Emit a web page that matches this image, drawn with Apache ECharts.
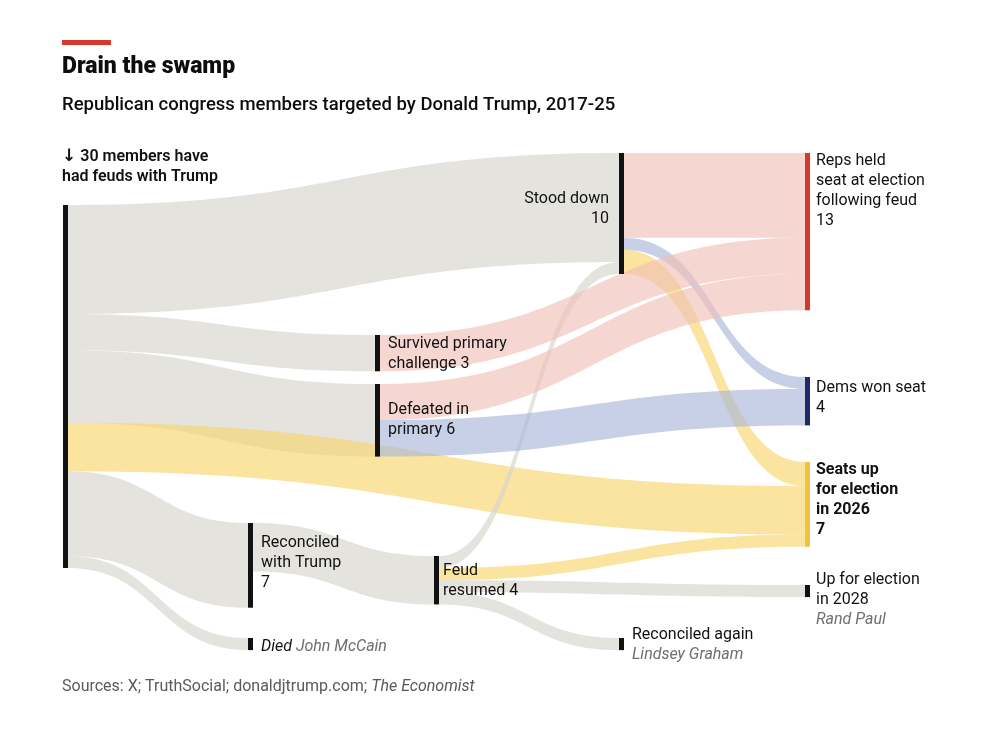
<!DOCTYPE html>
<html>
<head>
<meta charset="utf-8">
<script src="https://cdn.jsdelivr.net/npm/echarts@6/dist/echarts.min.js"></script>
<style>html,body{margin:0;padding:0;background:#fff}#c{width:1000px;height:734px}</style>
</head>
<body>
<div id="c"></div>
<script>
// ---------------- DATA ----------------
const nodeNames = [
  'All members', 'Reconciled with Trump', 'Died', 'Survived primary challenge',
  'Defeated in primary', 'Feud resumed', 'Stood down', 'Reconciled again',
  'Reps held seat', 'Dems won seat', 'Seats up for election in 2026', 'Up for election in 2028'
];
const linkSource = [
  'All members', 'All members', 'All members', 'All members', 'All members', 'All members',
  'Reconciled with Trump',
  'Feud resumed', 'Feud resumed', 'Feud resumed', 'Feud resumed',
  'Stood down', 'Stood down', 'Stood down',
  'Survived primary challenge',
  'Defeated in primary', 'Defeated in primary'
];
const linkTarget = [
  'Stood down', 'Survived primary challenge', 'Defeated in primary', 'Seats up for election in 2026', 'Reconciled with Trump', 'Died',
  'Feud resumed',
  'Stood down', 'Seats up for election in 2026', 'Up for election in 2028', 'Reconciled again',
  'Reps held seat', 'Dems won seat', 'Seats up for election in 2026',
  'Reps held seat',
  'Reps held seat', 'Dems won seat'
];
const linkValue = [9, 3, 6, 4, 7, 1, 4, 1, 1, 1, 1, 7, 1, 2, 3, 3, 3];
const linkKind = ['grey', 'grey', 'grey', 'yellow', 'grey', 'grey', 'grey', 'grey', 'yellow', 'grey', 'grey', 'pink', 'blue', 'yellow', 'pink', 'pink', 'blue'];
const nodeLabelText = {
  'All members': '{a|↓}30 members have\nhad feuds with Trump',
  'Reconciled with Trump': 'Reconciled\nwith Trump\n7',
  'Died': '{i|Died} {g|John McCain}',
  'Survived primary challenge': 'Survived primary\nchallenge 3',
  'Defeated in primary': 'Defeated in\nprimary 6',
  'Feud resumed': 'Feud\nresumed 4',
  'Stood down': 'Stood down\n10',
  'Reconciled again': 'Reconciled again\n{g|Lindsey Graham}',
  'Reps held seat': 'Reps held\nseat at election\nfollowing feud\n13',
  'Dems won seat': 'Dems won seat\n4',
  'Seats up for election in 2026': 'Seats up\nfor election\nin 2026\n7',
  'Up for election in 2028': 'Up for election\nin 2028\n{g|Rand Paul}'
};

// ---------------- LAYOUT / STYLE ----------------
const TOP = 153, H = 500, KY = 12.1, FONT = 'Roboto';
// columns: [name, depth, left x (px), top y (px)], in vertical order
const columns = [
  [['All members', 0, 63, 205]],
  [['Reconciled with Trump', 1, 248, 523], ['Died', 1, 248, 638]],
  [['Survived primary challenge', 2, 375, 335], ['Defeated in primary', 2, 375, 384], ['Feud resumed', 2, 434, 556]],
  [['Stood down', 3, 619, 153], ['Reconciled again', 3, 619, 638]],
  [['Reps held seat', 4, 805, 153], ['Dems won seat', 4, 805, 377], ['Seats up for election in 2026', 4, 805, 462], ['Up for election in 2028', 4, 805, 585]]
];
const nodeColor = {
  'Reps held seat': '#d5392c',
  'Dems won seat': '#1f2a6b',
  'Seats up for election in 2026': '#f2c13d'
};
const linkColor = { grey: '#d5d4cc', pink: '#f1c0b7', blue: '#a9b7d9', yellow: '#f7d66d' };
const labelPos = {
  'All members': { position: [-1, -58], fontWeight: 600 },
  'Reconciled with Trump': { position: [13, 9.5] },
  'Died': { position: [13, -1] },
  'Survived primary challenge': { position: [13, -1.5] },
  'Defeated in primary': { position: [13, 16] },
  'Feud resumed': { position: [9, 5] },
  'Stood down': { position: [-10, 36], align: 'right' },
  'Reconciled again': { position: [13, -13] },
  'Reps held seat': { position: [11, -2] },
  'Dems won seat': { position: [11, 1] },
  'Seats up for election in 2026': { position: [11, -2], fontWeight: 'bold' },
  'Up for election in 2028': { position: [11, -15] }
};

// node values from links
const nodeValue = {};
nodeNames.forEach(function (n) {
  let vin = 0, vout = 0;
  linkSource.forEach(function (s, k) {
    if (s === n) vout += linkValue[k];
    if (linkTarget[k] === n) vin += linkValue[k];
  });
  nodeValue[n] = Math.max(vin, vout);
});

const seriesNodes = [];
let spCount = 0;
function spacer(depth, v) {
  seriesNodes.push({
    name: '__spacer' + (spCount++), depth: depth, value: v,
    itemStyle: { color: 'rgba(0,0,0,0)', borderWidth: 0 },
    label: { show: false }
  });
}
columns.forEach(function (col) {
  let bottom = TOP;
  let depth = col[0][1];
  col.forEach(function (c) {
    const name = c[0], x = c[2], y = c[3];
    const gap = (y - bottom) / KY;
    if (gap > 0.0001) spacer(depth, gap);
    const lp = labelPos[name];
    seriesNodes.push({
      name: name, depth: depth, localX: x / 1000,
      itemStyle: { color: nodeColor[name] || '#111111' },
      label: {
        formatter: nodeLabelText[name],
        position: lp.position,
        align: lp.align || 'left',
        verticalAlign: 'top',
        fontWeight: lp.fontWeight || 'normal'
      }
    });
    bottom = y + nodeValue[name] * KY;
  });
  const rest = (TOP + H - bottom) / KY;
  if (rest > 0.0001) spacer(depth, rest - 0.0001);
});

const seriesLinks = linkSource.map(function (s, k) {
  return {
    source: s, target: linkTarget[k], value: linkValue[k],
    lineStyle: { color: linkColor[linkKind[k]], opacity: 0.65 }
  };
});

const chart = echarts.init(document.getElementById('c'), null, { renderer: 'canvas' });
chart.setOption({
  animation: false,
  backgroundColor: '#ffffff',
  title: [{
    text: 'Sources: X; TruthSocial; donaldjtrump.com; {i|The Economist}',
    left: 62, top: 677, padding: 0,
    textStyle: {
      fontFamily: FONT, fontSize: 16, fontWeight: 'normal', color: '#5a5a5a', lineHeight: 20,
      rich: { i: { fontFamily: FONT, fontSize: 16, fontStyle: 'italic', color: '#5a5a5a', lineHeight: 20 } }
    }
  }],
  graphic: [
    { type: 'rect', shape: { x: 62, y: 40, width: 49, height: 5 }, style: { fill: '#d5392c' } },
    { type: 'text', x: 62, y: 67, style: { text: 'Drain the swamp', font: '900 23px Roboto', fill: '#0d0d0d', verticalAlign: 'middle' } },
    { type: 'text', x: 62, y: 105, style: { text: 'Republican congress members targeted by Donald Trump, 2017-25', font: '500 18.5px Roboto', fill: '#0d0d0d', verticalAlign: 'middle' } }
  ],
  series: [{
    type: 'sankey',
    left: 0, right: 0, top: TOP, height: H,
    nodeWidth: 5, nodeGap: 0, layoutIterations: 0, nodeAlign: 'left',
    draggable: false, silent: true,
    emphasis: { disabled: true },
    label: {
      fontFamily: FONT, fontSize: 16, lineHeight: 20, color: '#111111',
      rich: {
        a: { fontFamily: 'DejaVu Sans', fontSize: 17, lineHeight: 20, fontWeight: 'bold', color: '#111111', padding: [0, 4, 0, 0] },
        g: { fontFamily: FONT, fontSize: 16, lineHeight: 20, fontStyle: 'italic', color: '#6e6e6e' },
        i: { fontFamily: FONT, fontSize: 16, lineHeight: 20, fontStyle: 'italic', color: '#111111' }
      }
    },
    lineStyle: { curveness: 0.5 },
    data: seriesNodes,
    links: seriesLinks
  }]
});
</script>
</body>
</html>
